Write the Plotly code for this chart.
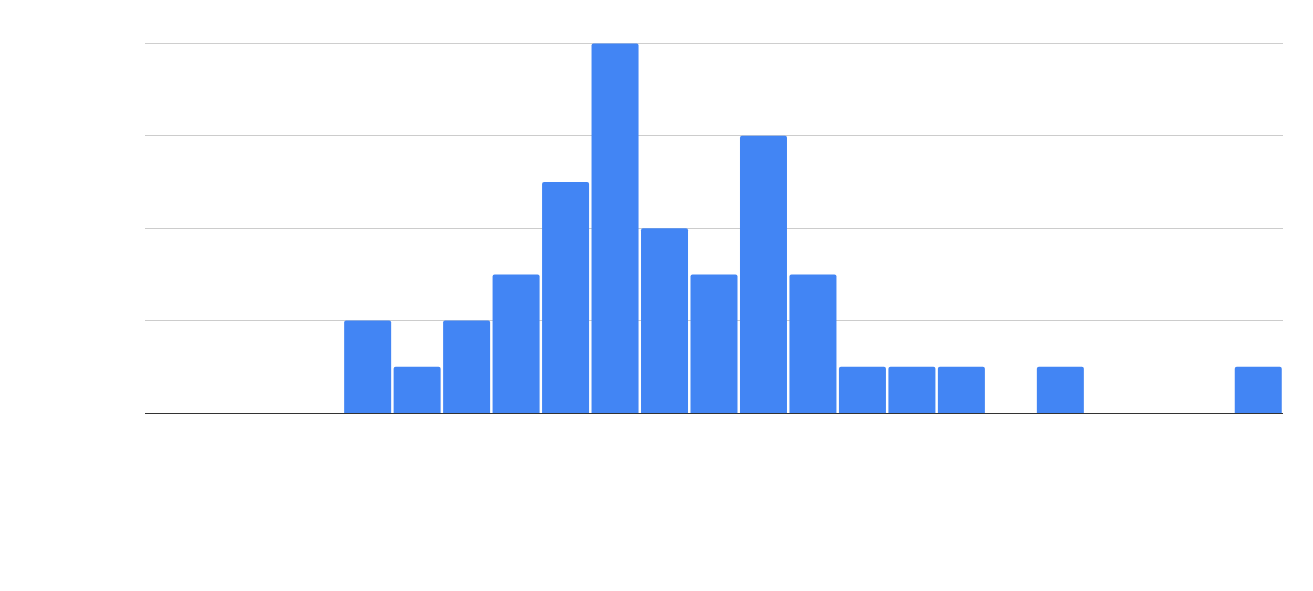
import plotly.graph_objects as go

categories = list(range(23))
values = [0, 0, 0, 0, 2, 1, 2, 3, 5, 8, 4, 3, 6, 3, 1, 1, 1, 0, 1, 0, 0, 0, 1]
y_max = 8

fig = go.Figure(go.Bar(x=categories, y=values,
                       marker=dict(color="#4285F4", line=dict(width=0), cornerradius=2)))
fig.update_layout(
    width=1305, height=583,
    margin=dict(l=137, r=30, t=35, b=178),
    plot_bgcolor="white", paper_bgcolor="white",
    bargap=0.05, showlegend=False,
)
fig.update_xaxes(range=[-0.5, 22.5], showticklabels=False, showgrid=False, zeroline=False,
                 showline=True, linecolor="#333333", linewidth=1)
fig.update_yaxes(range=[0, y_max + 0.01], tickvals=[2, 4, 6, 8], showticklabels=False, showgrid=True,
                 gridcolor="#cccccc", gridwidth=1, zeroline=False)
fig.add_hline(y=y_max, line=dict(color="#cccccc", width=1), layer="below")
fig.write_html("out.html")
